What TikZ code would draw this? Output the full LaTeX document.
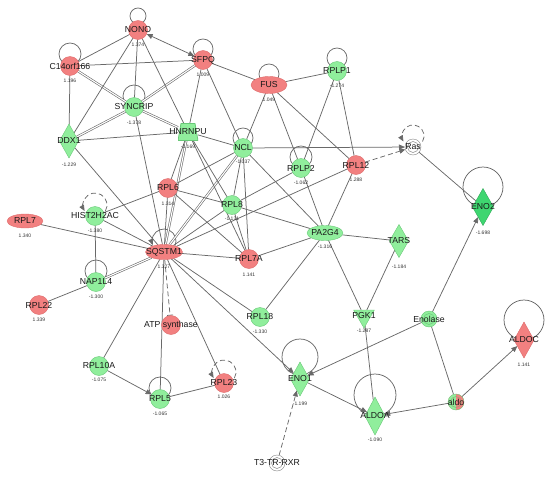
\documentclass[tikz,border=0pt]{standalone}
\usepackage{fontspec}
\setmainfont{Liberation Sans}
\usetikzlibrary{shapes.geometric,arrows.meta,calc}
\pgfdeclarelayer{edges}
\pgfsetlayers{edges,main}
\definecolor{nred}{RGB}{242,128,128}
\definecolor{nredd}{RGB}{222,108,108}
\definecolor{ngreen}{RGB}{144,238,156}
\definecolor{ngreend}{RGB}{105,200,120}
\definecolor{ndark}{RGB}{62,214,112}
\definecolor{egray}{RGB}{105,105,105}
\tikzset{
 base/.style={inner sep=0pt, outer sep=0pt, line width=0.4pt},
 rc/.style={base, circle, minimum size=19pt, fill=nred, draw=nredd},
 gc/.style={base, circle, minimum size=19pt, fill=ngreen, draw=ngreend},
 re/.style={base, ellipse, minimum width=37pt, minimum height=15pt, fill=nred, draw=nredd},
 ge/.style={base, ellipse, minimum width=36pt, minimum height=15pt, fill=ngreen, draw=ngreend},
 gd/.style={base, diamond, minimum width=19pt, minimum height=34pt, fill=ngreen, draw=ngreend},
 rd/.style={base, diamond, minimum width=20pt, minimum height=36pt, fill=nred, draw=nredd},
 gtz/.style={base, rectangle, minimum width=20pt, minimum height=17pt,
   path picture={\filldraw[fill=ngreen,draw=ngreend,line width=0.8pt]
     ([xshift=3pt]path picture bounding box.north west) --
     ([xshift=-3pt]path picture bounding box.north east) --
     (path picture bounding box.south east) --
     (path picture bounding box.south west) -- cycle;}},
 gtri/.style={base, regular polygon, regular polygon sides=3, shape border rotate=180, minimum size=24pt, fill=ngreen, draw=ngreend},
 cx/.style={base, circle, minimum size=16pt, draw=egray!80, fill=white},
 lbl/.style={inner sep=0pt, font=\fontsize{8.7}{9}\selectfont, text=black!90},
 val/.style={inner sep=0pt, font=\fontsize{5}{6}\selectfont, text=black!80},
 ed/.style={draw=egray, line width=0.75pt},
 dbl/.style={draw=egray, double=white, double distance=1.1pt, line width=0.6pt},
 tip/.style={-{Triangle[length=6pt,width=5pt]}},
 dsh/.style={dash pattern=on 5pt off 3pt},
}
% gene node: name, x, y, style, label, value offset, value
\newcommand\gn[7]{%
 \node[#4] (#1) at (#2,-#3) {};
 \node[lbl] (#1l) at (#1.center) {#5};
 \node[val] (#1v) at ($(#1.center)+(0,-#6)$) {#7};}
% complex node: name, x, y, extra style, inner colour, label
\newcommand\cxn[6]{%
 \node[cx,#4] (#1) at (#2,-#3) {};
 \draw[#5,line width=0.5pt] (#1.center) circle[radius=5.5];
 \node[lbl] (#1l) at (#1.center) {#6};}
\newcommand\lp[3]{\draw[ed] ($(#1.center)+(0,#2)$) circle[radius=#3];}
\begin{document}
\begin{tikzpicture}[x=1pt,y=1pt]
\useasboundingbox (0,0) rectangle (550,-477);
% nodes
\gn{NONO}{138}{30}{rc}{NONO}{15}{1.374}
\gn{C14}{70}{66}{rc}{C14orf166}{15}{1.196}
\gn{SFPQ}{203}{60}{rc}{SFPQ}{15}{1.009}
\gn{FUS}{269}{85}{re,minimum width=36pt,minimum height=17pt}{FUS}{15}{1.049}
\gn{RPLP1}{337}{71}{gc}{RPLP1}{15}{-1.274}
\gn{SYNCRIP}{134}{107}{gc}{SYNCRIP}{16}{-1.378}
\gn{DDX1}{69}{141}{gd}{DDX1}{24}{-1.229}
\gn{HNRNPU}{188}{132}{gtz}{HNRNPU}{15}{-1.169}
\gn{NCL}{243}{148}{gc}{NCL}{14}{-1.037}
\gn{RPLP2}{301}{168}{gc}{RPLP2}{15}{-1.062}
\gn{RPL12}{356}{165}{rc}{RPL12}{15}{1.288}
\gn{ENO2}{483}{207}{gd,fill=ndark,draw=ndark!80!black,minimum width=21pt,minimum height=37pt}{ENO2}{26}{-1.698}
\gn{TARS}{399}{241}{gd,minimum height=33pt}{TARS}{26}{-1.184}
\gn{RPL6}{168}{188}{rc}{RPL6}{16}{1.314}
\gn{RPL8}{232}{205}{gc}{RPL8}{14}{-1.131}
\gn{PA2G4}{325}{233}{ge}{PA2G4}{14}{-1.316}
\gn{HIST}{95}{216}{gc}{HIST2H2AC}{15}{-1.380}
\gn{RPL7}{25}{221}{re,minimum width=36pt,minimum height=14pt}{RPL7}{15}{1.340}
\gn{SQSTM1}{164}{252}{re}{SQSTM1}{15}{1.327}
\gn{RPL7A}{249}{259}{rc}{RPL7A}{16}{1.141}
\gn{NAP1L4}{96}{282}{gc}{NAP1L4}{15}{-1.300}
\gn{RPL22}{39}{305}{rc}{RPL22}{15}{1.339}
\node[rc] (ATP) at (171,-325) {};
\node[lbl] (ATPl) at (ATP.center) {ATP synthase};
\gn{RPL18}{260}{317}{gc}{RPL18}{15}{-1.330}
\gn{PGK1}{364}{316}{gtri}{PGK1}{15}{-1.287}
\gn{RPL10A}{99}{366}{gc}{RPL10A}{14}{-1.075}
\gn{RPL5}{160}{399}{gc}{RPL5}{15}{-1.065}
\gn{RPL23}{224}{383}{rc}{RPL23}{14}{1.026}
\gn{ENO1}{300}{379}{gd}{ENO1}{25}{-1.199}
\gn{ALDOA}{375}{416}{gd,minimum width=20pt,minimum height=38pt}{ALDOA}{24}{-1.090}
\gn{ALDOC}{524}{340}{rd}{ALDOC}{25}{1.141}
\cxn{Ras}{413}{147}{}{egray!80}{Ras}
\cxn{Enolase}{429}{319}{fill=ngreen,draw=ngreend}{ngreend}{Enolase}
\cxn{aldo}{456}{402}{fill=ngreen,draw=ngreend!80!nred,path picture={\fill[nred] (path picture bounding box.north) rectangle (path picture bounding box.south east);}}{ngreend!60!nredd}{aldo}
\cxn{T3}{277}{463}{}{egray!80}{T3-TR-RXR}
% edges
\begin{pgfonlayer}{edges}
% self loops
\lp{NONO}{14}{8}
\lp{C14}{12}{11}
\lp{SFPQ}{11}{10}
\lp{FUS}{11}{10}
\lp{RPLP1}{13}{10}
\lp{SYNCRIP}{11}{11}
\lp{NCL}{10}{10}
\lp{RPLP2}{11}{11}
\lp{NAP1L4}{11}{11}
\lp{RPL5}{11}{11}
\lp{ENO2}{20}{20}
\lp{ENO1}{22}{18}
\lp{ALDOA}{21}{21}
\lp{ALDOC}{20}{20}
\draw[ed,tip] ($(SQSTM1.center)+(0,11)+(-25:12)$) arc[start angle=-25,end angle=200,radius=12];
\draw[ed,dsh,tip] ($(HIST.center)+(0,11)+(-30:12)$) arc[start angle=-30,end angle=210,radius=12];
\draw[ed,dsh,tip] ($(RPL23.center)+(0,11)+(-30:12)$) arc[start angle=-30,end angle=210,radius=12];
\draw[ed,dsh,tip] ($(Ras.center)+(0,11)+(-30:11)$) arc[start angle=-30,end angle=210,radius=11];
% double lines
\draw[dbl] (C14) -- (SYNCRIP);
\draw[dbl] (SYNCRIP) -- (HNRNPU);
\draw[dbl] (SYNCRIP) -- (SFPQ);
\draw[dbl] (DDX1) -- (SYNCRIP);
\draw[dbl] (NAP1L4) -- (SQSTM1);
\draw[dbl] (HNRNPU) -- (SQSTM1);
\draw[dbl] (NCL) -- (SQSTM1);
% plain lines
\foreach \a/\b in {NONO/C14, NONO/SYNCRIP, NONO/DDX1, NONO/HNRNPU, C14/SFPQ, C14/DDX1,
  DDX1/HNRNPU, DDX1/SQSTM1, SFPQ/FUS, SFPQ/HNRNPU, SFPQ/NCL, FUS/RPLP1, FUS/NCL,
  FUS/RPLP2, FUS/RPL12, RPLP1/RPLP2, RPLP1/RPL12, HNRNPU/NCL, HNRNPU/RPL6, HNRNPU/RPL8,
  HNRNPU/RPL7A, SYNCRIP/SQSTM1, NCL/RPL6, NCL/RPL8, NCL/RPL7A, NCL/PA2G4, RPLP2/RPL8,
  RPLP2/PA2G4, RPL12/PA2G4, RPL12/SQSTM1, RPL6/RPL8, RPL6/RPL7A, RPL6/HIST, RPL6/SQSTM1,
  RPL8/PA2G4, RPL8/RPL7A, RPL8/SQSTM1, RPL7A/SQSTM1, RPL7A/PA2G4, PA2G4/TARS,
  PA2G4/RPL18, PA2G4/PGK1, TARS/PGK1, PGK1/ALDOA, HIST/SQSTM1, HIST/NAP1L4,
  RPL7/SQSTM1, NAP1L4/RPL22, SQSTM1/RPL10A, SQSTM1/RPL5, SQSTM1/RPL23, SQSTM1/RPL18,
  RPL5/RPL23, Ras/ENO2, Enolase/aldo}
  {\draw[ed] (\a) -- (\b);}
% arrows
\draw[ed,{Triangle[length=6pt,width=5pt]}-{Triangle[length=6pt,width=5pt]}] (SFPQ) -- (NONO);
\draw[ed,tip] (NCL) -- (Ras);
\draw[ed,dsh,tip] (RPL12) -- (Ras);
\draw[ed,tip] (SQSTM1) -- (ENO1);
\draw[ed,tip] (Enolase) -- (ENO1);
\draw[ed,tip] (Enolase) -- (ENO2);
\draw[ed,tip] (ENO1) -- (ALDOA);
\draw[ed,tip] (aldo) -- (ALDOC);
\draw[ed,tip] (aldo) -- (ALDOA);
\draw[ed,tip] (RPL10A) -- (RPL5);
\draw[ed,dsh,tip] (T3) -- (ENO1);
\draw[ed,dsh,-{Bar[width=6pt]}] (SQSTM1) -- (ATP);
\end{pgfonlayer}
\end{tikzpicture}
\end{document}
